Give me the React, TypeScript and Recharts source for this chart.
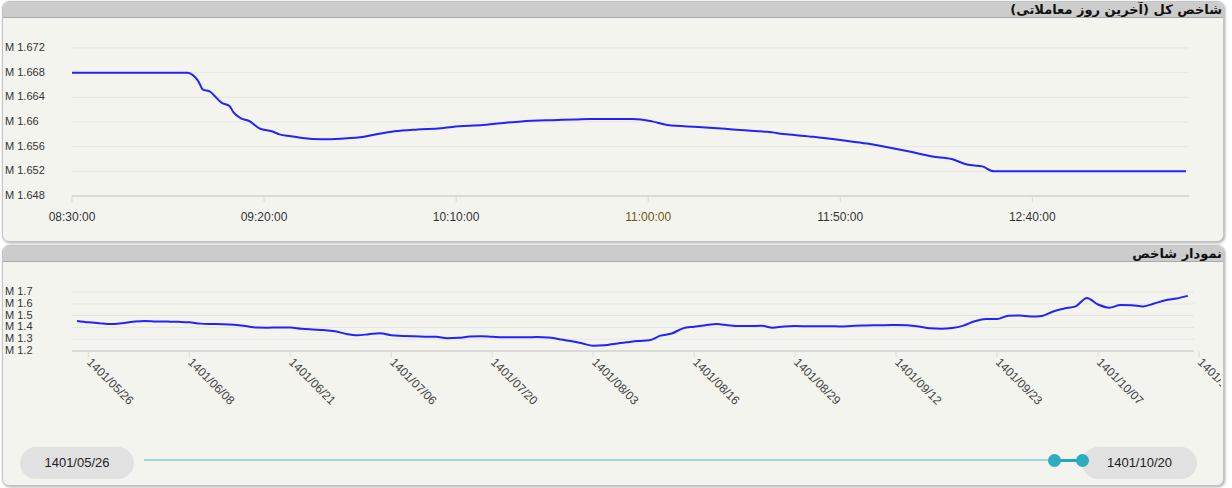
import React from 'react';
import { LineChart, Line, XAxis, YAxis, CartesianGrid } from 'recharts';

const FONT = '"Liberation Sans", Arial, sans-serif';
const LINE_COLOR = '#2222ff';

// intraday index, in millions
const dayTimes = [
  '08:30', '08:45', '09:00', '09:02', '09:03', '09:04', '09:06', '09:07',
  '09:09', '09:11', '09:12', '09:14', '09:16', '09:19', '09:22', '09:24',
  '09:27', '09:30', '09:35', '09:40', '09:46', '09:50', '09:54', '10:00',
  '10:06', '10:09', '10:17', '10:27', '10:35', '10:41', '10:45', '10:56',
  '11:01', '11:05', '11:13', '11:20', '11:24', '11:31', '11:36', '11:43',
  '11:51', '11:57', '12:04', '12:08', '12:14', '12:19', '12:23', '12:27',
  '12:30', '13:20',
];
const dayValues = [
  1.668, 1.668, 1.668, 1.6673, 1.6665, 1.6653, 1.6649, 1.6643,
  1.6631, 1.6626, 1.6616, 1.6606, 1.6602, 1.6589, 1.6585, 1.658,
  1.6577, 1.6574, 1.6572, 1.6573, 1.6576, 1.6581, 1.6585, 1.6588,
  1.659, 1.6592, 1.6595, 1.6601, 1.6603, 1.6604, 1.6605, 1.6605,
  1.6601, 1.6595, 1.6592, 1.6589, 1.6587, 1.6584, 1.658, 1.6576,
  1.657, 1.6565, 1.6557, 1.6552, 1.6544, 1.654, 1.6531, 1.6528,
  1.652, 1.652,
];
const dayXTicks = ['08:30', '09:20', '10:10', '11:00', '11:50', '12:40'];
const dayYTicks = [1.648, 1.652, 1.656, 1.66, 1.664, 1.668, 1.672];

// daily closes, in millions
const historyValues = [
  1.455, 1.443, 1.435, 1.428, 1.436, 1.448, 1.455, 1.451, 1.449, 1.447,
  1.444, 1.432, 1.429, 1.427, 1.422, 1.412, 1.399, 1.398, 1.4, 1.399,
  1.388, 1.382, 1.377, 1.367, 1.345, 1.334, 1.342, 1.35, 1.333, 1.328,
  1.324, 1.321, 1.32, 1.309, 1.312, 1.322, 1.325, 1.32, 1.316, 1.317,
  1.316, 1.318, 1.315, 1.3, 1.284, 1.265, 1.244, 1.248, 1.262, 1.274,
  1.285, 1.291, 1.33, 1.348, 1.392, 1.406, 1.418, 1.428, 1.418, 1.411,
  1.412, 1.414, 1.397, 1.408, 1.411, 1.41, 1.409, 1.41, 1.408, 1.412,
  1.416, 1.419, 1.419, 1.42, 1.418, 1.408, 1.392, 1.389, 1.395, 1.415,
  1.452, 1.472, 1.471, 1.498, 1.5, 1.492, 1.497, 1.535, 1.56, 1.578,
  1.65, 1.594, 1.567, 1.589, 1.588, 1.578, 1.602, 1.63, 1.645, 1.667,
];
const historyTickLabels = [
  '1401/05/26', '1401/06/08', '1401/06/21', '1401/07/06', '1401/07/20', '1401/08/03',
  '1401/08/16', '1401/08/29', '1401/09/12', '1401/09/23', '1401/10/07', '1401/10/20',
];
const historyYTicks = [1.2, 1.3, 1.4, 1.5, 1.6, 1.7];
const rangeStart = '1401/05/26';
const rangeEnd = '1401/10/20';

const toMin = (t: string) => {
  const [h, m] = t.split(':').map(Number);
  return h * 60 + m;
};
const pad = (n: number) => String(n).padStart(2, '0');
const fmtMin = (v: number) => `${pad(Math.floor(v / 60))}:${pad(v % 60)}:00`;

const dayData = dayTimes.map((t, i) => ({ t: toMin(t), value: dayValues[i] }));
const historyData = historyValues.map((v, i) => ({ i, value: v }));
const historyTicks = historyTickLabels.map((_, k) => 1 + k * 9);

const ValueTick = ({ y, payload }: any) => (
  <text x={2} y={y + 3} fontSize={11} fontFamily={FONT} fill="#333">
    {`M ${payload.value}`}
  </text>
);

const TimeTick = ({ x, y, payload }: any) => (
  <text
    x={x}
    y={y + 16.5}
    textAnchor="middle"
    fontSize={12}
    fontFamily={FONT}
    fill={payload.value === toMin('11:00') ? '#6e5614' : '#333'}
  >
    {fmtMin(payload.value)}
  </text>
);

const DateTick = ({ x, y, payload }: any) => {
  const label = historyTickLabels[(payload.value - 1) / 9];
  const tx = x + 1;
  const ty = y + 1;
  return (
    <text
      x={tx}
      y={ty}
      dy="0.35em"
      transform={`rotate(45, ${tx}, ${ty})`}
      textAnchor="start"
      fontSize={12}
      fontFamily={FONT}
      fill="#444"
    >
      {label}
    </text>
  );
};

const Panel = ({ top, height, title, children }: any) => (
  <div
    style={{
      position: 'absolute',
      left: 2,
      top,
      width: 1220,
      height,
      border: '1px solid #c4c4c4',
      borderRadius: 7,
      background: '#f4f4ef',
      overflow: 'hidden',
      boxShadow: '1px 1px 3px rgba(0,0,0,0.35)',
    }}
  >
    <div
      dir="rtl"
      style={{
        height: 15,
        background: '#cccccc',
        borderBottom: '1px solid #a9a9a9',
        textAlign: 'right',
        font: 'bold 13px "DejaVu Sans", sans-serif',
        lineHeight: '15px',
        color: '#111',
        paddingRight: 1,
        whiteSpace: 'nowrap',
      }}
    >
      {title}
    </div>
    {children}
  </div>
);

const pill: React.CSSProperties = {
  position: 'absolute',
  top: 201,
  height: 32,
  borderRadius: 16,
  background: '#e1e1e1',
  font: `13px ${FONT}`,
  color: '#222',
  lineHeight: '32px',
  textAlign: 'center',
};

const handle = (left: number): React.CSSProperties => ({
  position: 'absolute',
  left,
  top: 207.5,
  width: 13,
  height: 13,
  borderRadius: '50%',
  background: '#2badbf',
});

export default function App() {
  return (
    <div style={{ position: 'relative', width: 1232, height: 488, background: '#fff' }}>
      <style>{'body{margin:0}'}</style>

      <Panel top={1} height={239} title="شاخص کل (آخرین روز معاملاتی)">
        <div style={{ position: 'absolute', left: 0, top: 17 }}>
          <LineChart width={1218} height={220} data={dayData} margin={{ top: 29, right: 32, bottom: 0, left: 0 }}>
            <CartesianGrid vertical={false} stroke="#e5e5e5" />
            <XAxis
              type="number"
              dataKey="t"
              domain={[toMin('08:30'), toMin('13:20') + 0.8]}
              ticks={dayXTicks.map(toMin)}
              interval={0}
              height={43}
              tick={<TimeTick />}
              tickLine={{ stroke: '#dadada' }}
              axisLine={{ stroke: '#dadada', strokeWidth: 2 }}
            />
            <YAxis
              type="number"
              domain={[1.648, 1.672]}
              ticks={dayYTicks}
              interval={0}
              width={69}
              axisLine={false}
              tickLine={false}
              tick={<ValueTick />}
            />
            <Line
              type="monotone"
              dataKey="value"
              stroke={LINE_COLOR}
              strokeWidth={2}
              dot={false}
              isAnimationActive={false}
            />
          </LineChart>
        </div>
      </Panel>

      <Panel top={245} height={239} title="نمودار شاخص">
        <div style={{ position: 'absolute', left: 0, top: 17 }}>
          <LineChart width={1218} height={160} data={historyData} margin={{ top: 29, right: 27, bottom: 0, left: 0 }}>
            <CartesianGrid vertical={false} stroke="#e5e5e5" />
            <XAxis
              type="number"
              dataKey="i"
              domain={[-0.45, historyValues.length - 0.45]}
              ticks={historyTicks}
              interval={0}
              height={72}
              tick={<DateTick />}
              tickLine={{ stroke: '#dadada' }}
              axisLine={{ stroke: '#dadada', strokeWidth: 2 }}
            />
            <YAxis
              type="number"
              domain={[1.2, 1.7]}
              ticks={historyYTicks}
              interval={0}
              width={69}
              axisLine={false}
              tickLine={false}
              tick={<ValueTick />}
            />
            <Line
              type="monotone"
              dataKey="value"
              stroke={LINE_COLOR}
              strokeWidth={2}
              dot={false}
              isAnimationActive={false}
            />
          </LineChart>
        </div>

        <div style={{ ...pill, left: 17, width: 114 }}>{rangeStart}</div>
        <div style={{ position: 'absolute', left: 141, top: 213, width: 910, height: 2, background: '#a6d5dc' }} />
        <div style={{ position: 'absolute', left: 1051, top: 212.5, width: 28, height: 3, background: '#2aa7b7' }} />
        <div style={{ ...pill, left: 1079, width: 115 }}>{rangeEnd}</div>
        <div style={handle(1044.5)} />
        <div style={handle(1072.5)} />
      </Panel>
    </div>
  );
}
